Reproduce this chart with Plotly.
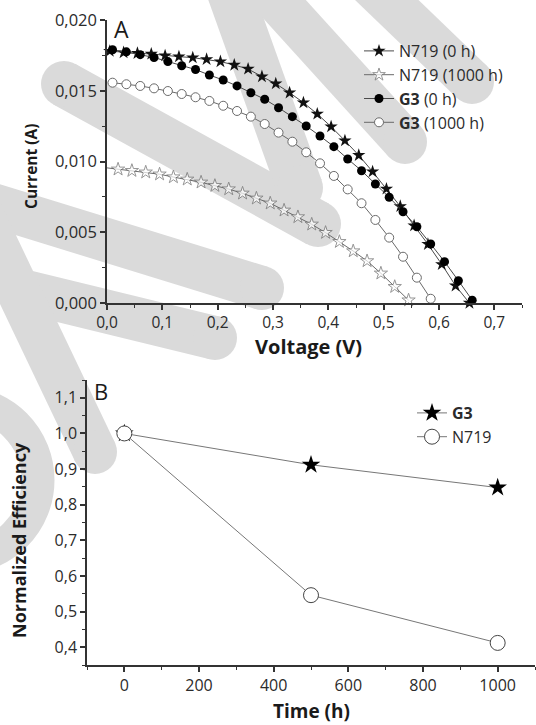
import plotly.graph_objects as go

# ---------------- Panel A data (I-V curves) ----------------
v_n719_0h = [0.005, 0.03, 0.055, 0.08, 0.105, 0.13, 0.155, 0.18, 0.205, 0.23, 0.255, 0.28, 0.305,
             0.33, 0.355, 0.38, 0.405, 0.43, 0.455, 0.48, 0.505, 0.53, 0.555, 0.58, 0.605, 0.63, 0.655]
i_n719_0h = [0.0178, 0.0177, 0.01765, 0.0176, 0.01748, 0.01741, 0.01734, 0.01722, 0.01706, 0.01682,
             0.01654, 0.01600, 0.01550, 0.01486, 0.01416, 0.01336, 0.01246, 0.01147, 0.01044, 0.00928,
             0.00806, 0.00683, 0.00547, 0.00415, 0.00273, 0.00122, 0.0]

v_n719_1000h = [0.0, 0.02, 0.045, 0.07, 0.095, 0.12, 0.145, 0.17, 0.195, 0.22, 0.245, 0.27, 0.295,
                0.32, 0.345, 0.37, 0.395, 0.42, 0.445, 0.47, 0.495, 0.52, 0.545]
i_n719_1000h = [0.00955, 0.00945, 0.00935, 0.00924, 0.0091, 0.0089, 0.00874, 0.00853, 0.00829, 0.00805,
                0.00775, 0.0074, 0.00705, 0.00655, 0.00608, 0.00556, 0.00497, 0.00433, 0.00367,
                0.00297, 0.0021, 0.00115, 0.0002]

v_g3_0h = [0.01, 0.035, 0.06, 0.085, 0.11, 0.135, 0.16, 0.185, 0.21, 0.235, 0.26, 0.285, 0.31, 0.335,
           0.36, 0.385, 0.41, 0.435, 0.46, 0.485, 0.51, 0.535, 0.56, 0.585, 0.61, 0.635, 0.66]
i_g3_0h = [0.0179, 0.01775, 0.01755, 0.01735, 0.01706, 0.01677, 0.0165, 0.01611, 0.01576, 0.01534,
           0.01486, 0.0144, 0.0138, 0.01317, 0.01251, 0.0118, 0.01105, 0.01018, 0.00935, 0.00841,
           0.00747, 0.00645, 0.00539, 0.00417, 0.00292, 0.00158, 0.0002]

v_g3_1000h = [0.01, 0.035, 0.06, 0.085, 0.11, 0.135, 0.16, 0.185, 0.21, 0.235, 0.26, 0.285, 0.31,
              0.335, 0.36, 0.385, 0.41, 0.435, 0.46, 0.485, 0.51, 0.535, 0.56, 0.585]
i_g3_1000h = [0.01557, 0.01546, 0.01534, 0.01517, 0.01498, 0.01477, 0.01454, 0.01428, 0.01394, 0.01357,
              0.01317, 0.01265, 0.01204, 0.0114, 0.01065, 0.00987, 0.00898, 0.00803, 0.00705, 0.00587,
              0.00462, 0.00327, 0.00179, 0.0003]

# ---------------- Panel B data (stability) ----------------
time_h = [0, 500, 1000]
eff_g3 = [1.0, 0.912, 0.848]
eff_n719 = [1.0, 0.546, 0.412]

# ---------------- Layout constants ----------------
W, H = 536, 725
def px_x(p): return p / W
def px_y(p): return 1 - p / H

FONT = "Open Sans"
TXT = "#2b2b2b"
LINE = "#4a4a4a"
OPEN = "#6a6a6a"
WM = "#dadada"

fig = go.Figure()

ms_a = 9
fig.add_trace(go.Scatter(x=v_n719_0h, y=i_n719_0h, mode="lines+markers", name="N719 (0 h)",
                         line=dict(color=LINE, width=1),
                         marker=dict(symbol="star", size=ms_a + 1, color="#111111",
                                     line=dict(width=0)),
                         xaxis="x", yaxis="y", legend="legend", cliponaxis=False))
fig.add_trace(go.Scatter(x=v_n719_1000h, y=i_n719_1000h, mode="lines+markers", name="N719 (1000 h)",
                         line=dict(color=OPEN, width=1),
                         marker=dict(symbol="star", size=[0] + [ms_a + 1] * (len(v_n719_1000h) - 1),
                                     color="white", line=dict(color=OPEN, width=1)),
                         xaxis="x", yaxis="y", legend="legend", cliponaxis=False))
fig.add_trace(go.Scatter(x=v_g3_0h, y=i_g3_0h, mode="lines+markers", name="<b>G3</b> (0 h)",
                         line=dict(color=LINE, width=1),
                         marker=dict(symbol="circle", size=ms_a, color="#000000",
                                     line=dict(width=0)),
                         xaxis="x", yaxis="y", legend="legend", cliponaxis=False))
fig.add_trace(go.Scatter(x=v_g3_1000h, y=i_g3_1000h, mode="lines+markers", name="<b>G3</b> (1000 h)",
                         line=dict(color=OPEN, width=1),
                         marker=dict(symbol="circle", size=ms_a, color="white",
                                     line=dict(color=OPEN, width=1)),
                         xaxis="x", yaxis="y", legend="legend", cliponaxis=False))

fig.add_trace(go.Scatter(x=time_h, y=eff_g3, mode="lines+markers", name="<b>G3</b>",
                         line=dict(color="#777777", width=1),
                         marker=dict(symbol="star", size=14, color="#000000", line=dict(width=0)),
                         xaxis="x2", yaxis="y2", legend="legend2", cliponaxis=False))
fig.add_trace(go.Scatter(x=time_h, y=eff_n719, mode="lines+markers", name="N719",
                         line=dict(color="#777777", width=1),
                         marker=dict(symbol="circle", size=15, color="white",
                                     line=dict(color="#444444", width=1)),
                         xaxis="x2", yaxis="y2", legend="legend2", cliponaxis=False))

def axis_common(fs):
    return dict(showgrid=False, zeroline=False, showline=True, linecolor="#333333", linewidth=1.5,
                ticks="outside", ticklen=5, tickwidth=1.5, tickcolor="#333333", automargin=False,
                tickfont=dict(family=FONT, size=fs, color=TXT), mirror=False)

minor = lambda d: dict(dtick=d, ticks="outside", ticklen=3, tickcolor="#333333", tickwidth=1.2)

fig.update_layout(
    width=W, height=H, margin=dict(l=0, r=0, t=0, b=0, autoexpand=False),
    paper_bgcolor="white", plot_bgcolor="rgba(0,0,0,0)",
    separators=", ",
    xaxis=dict(domain=[px_x(107), px_x(522)], range=[0, 0.75], dtick=0.1, tickformat=".1f",
               anchor="y", minor=minor(0.05), **axis_common(15.5)),
    yaxis=dict(domain=[px_y(303), px_y(20)], range=[0, 0.020], dtick=0.005, tickformat=".3f",
               anchor="x", minor=minor(0.0025), **axis_common(16.5)),
    xaxis2=dict(domain=[px_x(87), px_x(535)], range=[-100, 1100], dtick=200, tick0=0,
                anchor="y2", minor=minor(100), **axis_common(16)),
    yaxis2=dict(domain=[px_y(665), px_y(380)], range=[0.35, 1.15], dtick=0.1, tick0=0, tickformat=".1f",
                anchor="x2", minor=minor(0.05), **axis_common(16)),
    legend=dict(x=px_x(359), y=px_y(34), xanchor="left", yanchor="top", bgcolor="rgba(0,0,0,0)",
                font=dict(family=FONT, size=16, color=TXT), tracegroupgap=0, itemwidth=30),
    legend2=dict(x=px_x(412), y=px_y(396), xanchor="left", yanchor="top", bgcolor="rgba(0,0,0,0)",
                 font=dict(family=FONT, size=16, color=TXT), tracegroupgap=0, itemwidth=30),
    showlegend=True,
)

# ---------------- Watermark (light grey strokes behind the chart) ----------------
def stroke(x0, y0, x1, y1, w, cap0=True, cap1=True):
    fig.add_shape(type="line", xref="paper", yref="paper", layer="below",
                  x0=px_x(x0), y0=px_y(y0), x1=px_x(x1), y1=px_y(y1),
                  line=dict(color=WM, width=w))
    r = w / 2
    for (cx, cy, on) in ((x0, y0, cap0), (x1, y1, cap1)):
        if on:
            fig.add_shape(type="circle", xref="paper", yref="paper", layer="below",
                          x0=px_x(cx - r), x1=px_x(cx + r), y0=px_y(cy + r), y1=px_y(cy - r),
                          fillcolor=WM, line=dict(width=0))

stroke(64, 84, 318, 224, 46)
stroke(222, -30, 300, 188, 46, cap0=False)
stroke(258, -20, 405, 142, 44, cap0=False)
stroke(366, -20, 472, 82, 44, cap0=False)
stroke(-30, 198, 262, 288, 44, cap0=False)
stroke(10, 288, 215, 338, 44, cap0=False)
stroke(-30, 190, 95, 452, 44, cap0=False)
fig.add_shape(type="circle", xref="paper", yref="paper", layer="below",
              x0=px_x(-40 - 78), x1=px_x(-40 + 78), y0=px_y(480 + 78), y1=px_y(480 - 78),
              line=dict(color=WM, width=33), fillcolor="rgba(0,0,0,0)")

annots = [
    dict(text="A", x=px_x(121), y=px_y(29), font=dict(size=23)),
    dict(text="B", x=px_x(101), y=px_y(391), font=dict(size=22)),
    dict(text="<b>Current (A)</b>", x=px_x(31), y=px_y(167), textangle=-90, font=dict(size=15.5)),
    dict(text="<b>Voltage (V)</b>", x=px_x(308), y=px_y(347), font=dict(size=20)),
    dict(text="<b>Normalized Efficiency</b>", x=px_x(19), y=px_y(540), textangle=-90, font=dict(size=18)),
    dict(text="<b>Time (h)</b>", x=px_x(311), y=px_y(711), font=dict(size=19)),
]
for a in annots:
    f = dict(family=FONT, color="#1a1a1a")
    f.update(a.pop("font"))
    fig.add_annotation(xref="paper", yref="paper", showarrow=False, xanchor="center", yanchor="middle",
                       font=f, **a)

fig.write_html("out.html", post_script="document.body.style.margin='0px';")
